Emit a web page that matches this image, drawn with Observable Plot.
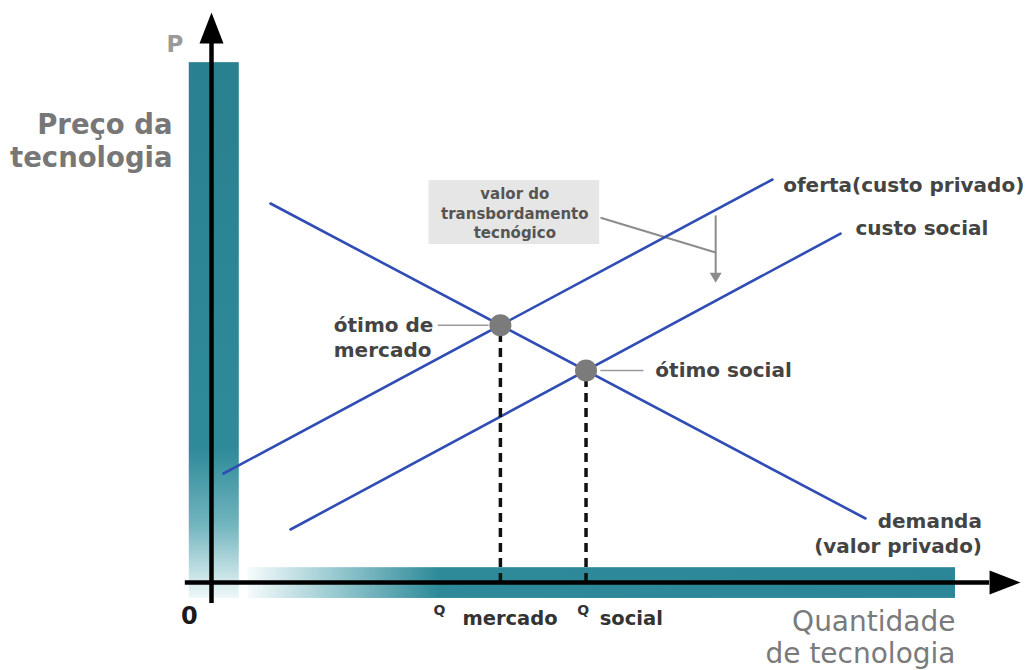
<!DOCTYPE html>
<html>
<head>
<meta charset="utf-8">
<script src="https://cdn.jsdelivr.net/npm/d3@7"></script>
<script src="https://cdn.jsdelivr.net/npm/@observablehq/plot@0.6"></script>
<style>
  body { margin: 0; background: #ffffff; }
  #chart svg { display: block; }
</style>
</head>
<body>
<div id="chart"></div>
<script>
// Curves of the technology market: quantity q (horizontal) against price p (vertical)
const demandCurve = [{q: 7.43, p: 66.49}, {q: 82.37, p: 11.23}];
const supplyCurve = [{q: 1.51, p: 19.12}, {q: 70.65, p: 70.70}];
const socialCostCurve = [{q: 9.95, p: 9.30}, {q: 79.22, p: 61.20}];

// Text
const priceTitle = ["Preço da", "tecnologia"];
const quantityTitle = ["Quantidade", "de tecnologia"];
const curveNames = ["oferta(custo privado)", "custo social", "demanda", "(valor privado)"];
const optimumNames = ["ótimo de", "mercado", "ótimo social"];
const quantityNames = ["mercado", "social"];
const noteLines = ["valor do", "transbordamento", "tecnógico"];

// Intersection of two straight segments (extended as lines)
function crossing(a, b) {
  const sa = (a[1].p - a[0].p) / (a[1].q - a[0].q);
  const sb = (b[1].p - b[0].p) / (b[1].q - b[0].q);
  const ia = a[0].p - sa * a[0].q;
  const ib = b[0].p - sb * b[0].q;
  const q = (ib - ia) / (sa - sb);
  return {q, p: ia + sa * q};
}
const marketOptimum = crossing(demandCurve, supplyCurve);
const socialOptimum = crossing(demandCurve, socialCostCurve);
const optima = [marketOptimum, socialOptimum];

// Filled triangular arrowheads drawn as custom dot symbols (tip at the dot position)
const headUp = {draw(ctx) { ctx.moveTo(0, 0); ctx.lineTo(12, 31); ctx.lineTo(-12, 31); ctx.closePath(); }};
const headRight = {draw(ctx) { ctx.moveTo(0, 0); ctx.lineTo(-31, -12); ctx.lineTo(-31, 12); ctx.closePath(); }};
const headDown = {draw(ctx) { ctx.moveTo(0, 0); ctx.lineTo(-6, -10); ctx.lineTo(6, -10); ctx.closePath(); }};

const BLUE = "#2f4db4";
const LABEL = "#444444";
const FONT = "DejaVu Sans";

// horizontal placement of the small "Q" and of the subscript word under each drop line
const qMarkX = [28.7, 46.8];
const qWordX = [31.6, 48.9];

const svg = Plot.plot({
  width: 1030,
  height: 670,
  marginLeft: 211,
  marginRight: 25,
  marginTop: 12,
  marginBottom: 88,
  x: {domain: [0, 100], axis: null},
  y: {domain: [0, 100], axis: null},
  style: {background: "#ffffff", fontFamily: FONT},
  marks: [
    // teal bands along both axes
    Plot.rect([0], {x1: -2.8, x2: 3.5, y1: -2.8, y2: 91.2, fill: "url(#bandV)"}),
    Plot.rect([0], {x1: 4.6, x2: 93.7, y1: -2.8, y2: 2.6, fill: "url(#bandH)"}),

    // spillover note box
    Plot.rect([0], {x1: 27.4, x2: 48.9, y1: 59.3, y2: 70.5, fill: "#e6e6e6"}),
    Plot.text(noteLines, {x: 38.2, y: (d, i) => 68.1 - i * 3.4, text: d => d,
      fontSize: 15, fontWeight: "bold", fill: "#555555"}),
    Plot.link([0], {x1: 49.0, y1: 64.0, x2: 63.5, y2: 57.9, stroke: "#8c8c8c", strokeWidth: 2}),
    Plot.link([0], {x1: 63.5, y1: 64.4, x2: 63.5, y2: 54.0, stroke: "#8c8c8c", strokeWidth: 2}),
    Plot.dot([0], {x: 63.5, y: 52.6, symbol: headDown, fill: "#8c8c8c", stroke: null}),

    // curves
    Plot.line(demandCurve, {x: "q", y: "p", stroke: BLUE, strokeWidth: 2.6}),
    Plot.line(supplyCurve, {x: "q", y: "p", stroke: BLUE, strokeWidth: 2.6}),
    Plot.line(socialCostCurve, {x: "q", y: "p", stroke: BLUE, strokeWidth: 2.6}),

    // drop lines from each optimum to the quantity axis
    Plot.ruleX(optima, {x: "q", y1: 0, y2: "p", stroke: "#111111", strokeWidth: 3.5, strokeDasharray: "9,6"}),

    // axes with arrowheads
    Plot.ruleX([0], {y1: -3.7, y2: 96, stroke: "#000000", strokeWidth: 4.5}),
    Plot.ruleY([0], {x1: -3.3, x2: 98, stroke: "#000000", strokeWidth: 4.5}),
    Plot.dot([0], {x: 0, y: 100, symbol: headUp, fill: "#000000", stroke: null}),
    Plot.dot([0], {x: 101.9, y: 0, symbol: headRight, fill: "#000000", stroke: null}),

    // optimum points and their leaders
    Plot.link([marketOptimum], {x1: 28.5, x2: d => d.q - 1.5, y1: "p", y2: "p", stroke: "#9a9a9a", strokeWidth: 1.6}),
    Plot.link([socialOptimum], {x1: d => d.q + 1.8, x2: 54.4, y1: "p", y2: "p", stroke: "#9a9a9a", strokeWidth: 1.6}),
    Plot.dot(optima, {x: "q", y: "p", r: 11, fill: "#7b7b7b", stroke: null}),

    // curve and point labels
    Plot.text([curveNames[0]], {x: 72.0, y: 69.6, textAnchor: "start", fontSize: 20, fontWeight: "bold", fill: LABEL}),
    Plot.text([curveNames[1]], {x: 81.1, y: 62.1, textAnchor: "start", fontSize: 20, fontWeight: "bold", fill: LABEL}),
    Plot.text([curveNames[2]], {x: 83.9, y: 10.7, textAnchor: "start", fontSize: 20, fontWeight: "bold", fill: LABEL}),
    Plot.text([curveNames[3]], {x: 75.9, y: 6.3, textAnchor: "start", fontSize: 20, fontWeight: "bold", fill: LABEL}),
    Plot.text([optimumNames[0]], {x: 15.4, y: 45.1, textAnchor: "start", fontSize: 20, fontWeight: "bold", fill: LABEL}),
    Plot.text([optimumNames[1]], {x: 15.4, y: 40.6, textAnchor: "start", fontSize: 20, fontWeight: "bold", fill: LABEL}),
    Plot.text([optimumNames[2]], {x: 55.9, y: 37.2, textAnchor: "start", fontSize: 20, fontWeight: "bold", fill: LABEL}),

    // axis titles
    Plot.text(["P"], {x: -4.6, y: 94.4, fontSize: 23, fontWeight: "bold", fill: "#9a9a9a"}),
    Plot.text(priceTitle, {x: -4.9, y: (d, i) => 80.2 - i * 5.8, text: d => d, textAnchor: "end",
      fontSize: 27.5, fontWeight: "bold", fill: "#777777"}),
    Plot.text(quantityTitle, {x: 93.7, y: (d, i) => -7.0 - i * 5.6, text: d => d, textAnchor: "end",
      fontSize: 28, fill: "#7a7a7a"}),

    // origin and quantity markers
    Plot.text(["0"], {x: -2.8, y: -6.0, fontSize: 24, fontWeight: "bold", fill: "#1a1a1a"}),
    Plot.text(quantityNames, {x: (d, i) => qMarkX[i], y: -4.9, text: () => "Q", fontSize: 14, fontWeight: "bold", fill: "#333333"}),
    Plot.text(quantityNames, {x: (d, i) => qWordX[i], y: -6.3, text: d => d, textAnchor: "start",
      fontSize: 19.5, fontWeight: "bold", fill: "#333333"})
  ]
});

// gradients used by the axis bands
const defs = d3.select(svg).insert("defs", ":first-child");
const gv = defs.append("linearGradient").attr("id", "bandV").attr("x1", 0).attr("y1", 0).attr("x2", 0).attr("y2", 1);
[[0, "#29808f"], [0.72, "#2e8a99"], [0.86, "#6fb3bd"], [1, "#eef8f9"]].forEach(([o, c]) =>
  gv.append("stop").attr("offset", o).attr("stop-color", c));
const gh = defs.append("linearGradient").attr("id", "bandH").attr("x1", 0).attr("y1", 0).attr("x2", 1).attr("y2", 0);
[[0, "#f6fbfc"], [0.12, "#9bcbd2"], [0.27, "#2e8a99"], [1, "#2b8797"]].forEach(([o, c]) =>
  gh.append("stop").attr("offset", o).attr("stop-color", c));

document.getElementById("chart").append(svg);
</script>
</body>
</html>
